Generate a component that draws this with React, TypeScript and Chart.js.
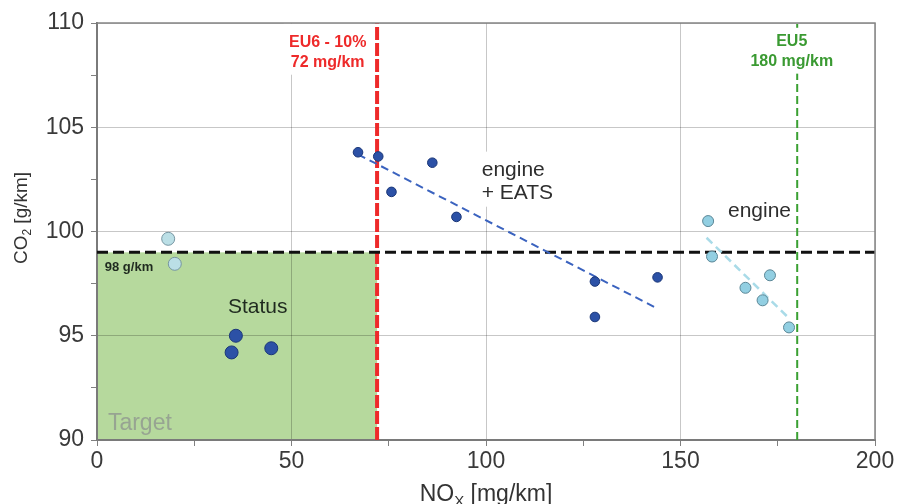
import { useEffect, useRef } from "react";
import { Chart, registerables } from "chart.js";

Chart.register(...registerables);

// ---- data ----
const statusX = [34.6, 35.7, 44.8];
const statusY = [94.2, 95.0, 94.4];
const eatsX = [67.1, 72.3, 75.7, 86.2, 92.4, 128.0, 128.0, 144.1];
const eatsY = [103.8, 103.6, 101.9, 103.3, 100.7, 97.6, 95.9, 97.8];
const lowX = [18.3, 20.0];
const lowY = [99.65, 98.45];
const engineX = [157.1, 158.1, 166.7, 171.1, 173.0, 177.9];
const engineY = [100.5, 98.8, 97.3, 96.7, 97.9, 95.4];
const eatsTrendX = [67.1, 144.1];
const eatsTrendY = [103.7, 96.3];
const engineTrendX = [156.7, 178.1];
const engineTrendY = [99.7, 95.8];
const co2Target = 99;
const noxEU6 = 72;
const noxEU5 = 180;
const xRange = [0, 200];
const yRange = [90, 110];

const FONT = '"Liberation Sans", Arial, sans-serif';

const pts = (xs: number[], ys: number[]) => xs.map((x, i) => ({ x, y: ys[i] }));

type Label = {
  lines: string[];
  x: number;
  ys: number[];
  color: string;
  font: string;
  align: CanvasTextAlign;
  box?: [number, number, number, number]; // x0,x1,y0,y1 in data units
};

const labels: Label[] = [
  { lines: ["EU6 - 10%", "72 mg/km"], x: 59.3, ys: [109.05, 108.12], color: "#ee2a2a", font: `bold 16px ${FONT}`, align: "center", box: [48.0, 70.6, 109.97, 107.52] },
  { lines: ["EU5", "180 mg/km"], x: 178.6, ys: [109.12, 108.16], color: "#3a9a32", font: `bold 16px ${FONT}`, align: "center", box: [167.3, 190.4, 109.77, 107.57] },
  { lines: ["engine", "+ EATS"], x: 98.9, ys: [102.96, 101.86], color: "#2e2e2e", font: `21px ${FONT}`, align: "left", box: [97.8, 120.5, 103.83, 101.19] },
  { lines: ["engine"], x: 162.2, ys: [100.99], color: "#2e2e2e", font: `21px ${FONT}`, align: "left", box: [160.6, 179.4, 101.71, 100.13] },
  { lines: ["Status"], x: 41.3, ys: [96.39], color: "#1f2a1f", font: `21px ${FONT}`, align: "center" },
  { lines: ["Target"], x: 2.8, ys: [90.76], color: "#97a492", font: `23px ${FONT}`, align: "left" },
  { lines: ["98 g/km"], x: 2.0, ys: [98.27], color: "#1f2a1f", font: `bold 13px ${FONT}`, align: "left" },
];

function drawSegs(ctx: CanvasRenderingContext2D, segs: { t: string; sub?: boolean }[], size: number) {
  const widths = segs.map((s) => {
    ctx.font = `${s.sub ? Math.round(size * 0.65) : size}px ${FONT}`;
    return ctx.measureText(s.t).width;
  });
  const total = widths.reduce((a, b) => a + b, 0);
  let cx = -total / 2;
  ctx.textAlign = "left";
  ctx.textBaseline = "middle";
  segs.forEach((s, i) => {
    ctx.font = `${s.sub ? Math.round(size * 0.65) : size}px ${FONT}`;
    ctx.fillText(s.t, cx, s.sub ? size * 0.3 : 0);
    cx += widths[i];
  });
}

const annotPlugin = {
  id: "annot",
  beforeDraw(chart: any) {
    const { ctx, scales } = chart;
    const x = scales.x, y = scales.y;
    ctx.save();
    ctx.fillStyle = "#ffffff";
    ctx.fillRect(0, 0, chart.width, chart.height);
    const l = x.getPixelForValue(xRange[0]);
    const r = x.getPixelForValue(noxEU6);
    const t = y.getPixelForValue(co2Target);
    const b = y.getPixelForValue(yRange[0]);
    ctx.fillStyle = "#b6d99d";
    ctx.fillRect(l, t, r - l, b - t);
    ctx.restore();
  },
  afterDatasetsDraw(chart: any) {
    const { ctx, scales } = chart;
    const x = scales.x, y = scales.y;
    ctx.save();
    labels.forEach((lb) => {
      if (lb.box) {
        const [x0, x1, y0, y1] = lb.box;
        const px0 = x.getPixelForValue(x0), px1 = x.getPixelForValue(x1);
        const py0 = y.getPixelForValue(y0), py1 = y.getPixelForValue(y1);
        ctx.fillStyle = "#ffffff";
        ctx.fillRect(px0, py0, px1 - px0, py1 - py0);
      }
      ctx.fillStyle = lb.color;
      ctx.font = lb.font;
      ctx.textAlign = lb.align;
      ctx.textBaseline = "middle";
      lb.lines.forEach((s, i) => {
        ctx.fillText(s, x.getPixelForValue(lb.x), y.getPixelForValue(lb.ys[i]));
      });
    });
    ctx.restore();
  },
  afterDraw(chart: any) {
    const { ctx, chartArea } = chart;
    ctx.save();
    ctx.strokeStyle = "#858585";
    ctx.lineWidth = 1.5;
    ctx.beginPath();
    ctx.moveTo(chartArea.left, chartArea.top);
    ctx.lineTo(chartArea.right, chartArea.top);
    ctx.lineTo(chartArea.right, chartArea.bottom);
    ctx.stroke();
    ctx.fillStyle = "#333333";
    ctx.save();
    ctx.translate(486, 495);
    drawSegs(ctx, [{ t: "NO" }, { t: "X", sub: true }, { t: " [mg/km]" }], 23);
    ctx.restore();
    ctx.save();
    ctx.translate(22, 218);
    ctx.rotate(-Math.PI / 2);
    drawSegs(ctx, [{ t: "CO" }, { t: "2", sub: true }, { t: " [g/km]" }], 19);
    ctx.restore();
    ctx.restore();
  },
};

export default function App() {
  const ref = useRef<HTMLCanvasElement | null>(null);
  useEffect(() => {
    if (!ref.current) return;
    const darkBg = "#2c51a6";
    const darkBd = "#1b3778";
    const chart = new Chart(ref.current, {
      type: "scatter",
      data: {
        datasets: [
          { label: "Status", data: pts(statusX, statusY), backgroundColor: darkBg, borderColor: darkBd, borderWidth: 1, pointRadius: 6.5 },
          { label: "engine + EATS", data: pts(eatsX, eatsY), backgroundColor: darkBg, borderColor: darkBd, borderWidth: 1, pointRadius: 4.8 },
          { label: "low", data: pts(lowX, lowY), backgroundColor: "#bbdfe6", borderColor: "#7796a2", borderWidth: 1, pointRadius: 6.5 },
          { label: "engine", data: pts(engineX, engineY), backgroundColor: "#92cfe2", borderColor: "#5b8797", borderWidth: 1, pointRadius: 5.5 },
          { label: "EATS trend", data: pts(eatsTrendX, eatsTrendY), showLine: true, borderColor: "#3b63bf", borderWidth: 2, borderDash: [8, 5], pointRadius: 0 },
          { label: "engine trend", data: pts(engineTrendX, engineTrendY), showLine: true, borderColor: "#a9dbe8", borderWidth: 2.5, borderDash: [8, 5], pointRadius: 0 },
          { label: "CO2 target", data: pts(xRange, [co2Target, co2Target]), showLine: true, borderColor: "#111111", borderWidth: 3, borderDash: [11, 5], pointRadius: 0 },
          { label: "EU6", data: pts([noxEU6, noxEU6], yRange), showLine: true, borderColor: "#ee2a2a", borderWidth: 4, borderDash: [13, 3], pointRadius: 0 },
          { label: "EU5", data: pts([noxEU5, noxEU5], yRange), showLine: true, borderColor: "#3aa032", borderWidth: 2, borderDash: [8, 4], pointRadius: 0 },
        ],
      },
      options: {
        responsive: false,
        animation: false,
        events: [],
        layout: { padding: { top: 23, right: 22, left: 0, bottom: 0 } },
        plugins: { legend: { display: false }, tooltip: { enabled: false } },
        scales: {
          x: {
            type: "linear",
            min: xRange[0],
            max: xRange[1],
            afterFit: (s: any) => { s.height = 64; },
            ticks: {
              stepSize: 25,
              autoSkip: false,
              maxRotation: 0,
              padding: 2,
              color: "#3a3a3a",
              font: { family: FONT, size: 23 },
              callback: (v: any) => (Number(v) % 50 === 0 ? String(v) : ""),
            },
            grid: {
              color: (c: any) => (c.tick && c.tick.value % 50 === 0 ? "rgba(0,0,0,0.22)" : "rgba(0,0,0,0)"),
              tickColor: "#808080",
              tickLength: 6,
              lineWidth: 1,
            },
            border: { display: true, color: "#7a7a7a", width: 2 },
          },
          y: {
            type: "linear",
            min: yRange[0],
            max: yRange[1],
            afterFit: (s: any) => { s.width = 97; },
            ticks: {
              stepSize: 2.5,
              autoSkip: false,
              padding: 7,
              color: "#3a3a3a",
              font: { family: FONT, size: 23 },
              callback: (v: any) => (Number(v) % 5 === 0 ? String(v) : ""),
            },
            grid: {
              color: (c: any) => (c.tick && c.tick.value % 5 === 0 ? "rgba(0,0,0,0.22)" : "rgba(0,0,0,0)"),
              tickColor: "#808080",
              tickLength: 6,
              lineWidth: 1,
            },
            border: { display: true, color: "#7a7a7a", width: 2 },
          },
        },
      },
      plugins: [annotPlugin],
    } as any);
    return () => chart.destroy();
  }, []);
  return (
    <div style={{ position: "absolute", left: 0, top: 0, width: 897, height: 504 }}>
      <canvas ref={ref} width={897} height={504} style={{ display: "block" }} />
    </div>
  );
}
